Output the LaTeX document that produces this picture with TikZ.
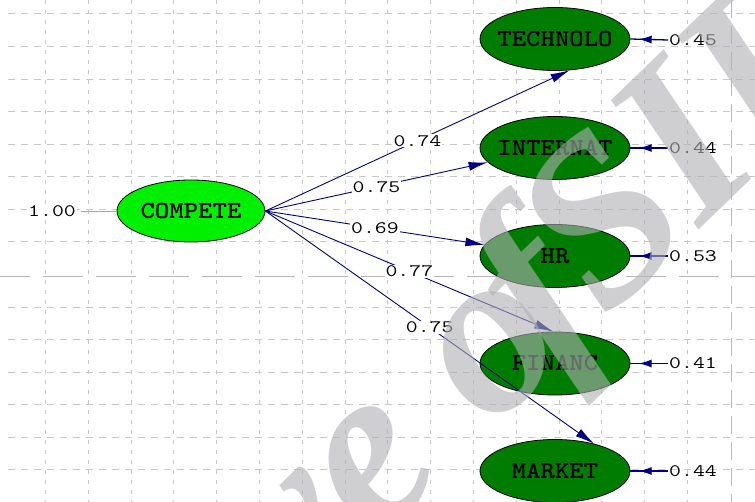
\documentclass[tikz,border=0pt]{standalone}
\usepackage{fontspec}
\usetikzlibrary{arrows.meta,decorations.markings,shapes.geometric}
\newfontfamily\wmfont{Liberation Serif}
\newcommand{\numtxt}[1]{\scalebox{1.32}[1]{#1}}
\newcommand{\nametxt}[1]{\makebox[0pt]{\scalebox{1.12}[1]{#1}}}
\definecolor{lgreen}{RGB}{0,240,0}
\definecolor{dgreen}{RGB}{0,125,0}
\definecolor{pathblue}{RGB}{0,0,135}
\definecolor{gridgray}{RGB}{200,200,200}
\definecolor{pagegray}{RGB}{185,185,185}
\definecolor{wmgray}{RGB}{175,175,180}
\begin{document}
\begin{tikzpicture}[x=1pt,y=-1pt,
  gridv/.style={gridgray, line width=1pt, dash pattern=on 4pt off 6pt},
  gridh/.style={gridgray, line width=1pt, dash pattern=on 7pt off 6pt},
  pageh/.style={pagegray, line width=1pt, dash pattern=on 40pt off 13pt, dash phase=10pt},
  pagev/.style={pagegray, line width=1pt, dash pattern=on 18pt off 8pt},
  latent/.style={ellipse, draw=black, line width=0.8pt, fill=lgreen,
    minimum width=148pt, minimum height=62pt, inner sep=0pt, text=black,
    font=\ttfamily\bfseries\fontsize{24.5}{24.5}\selectfont},
  indic/.style={latent, fill=dgreen, minimum width=150pt, minimum height=63pt},
  numlab/.style={font=\ttfamily\fontsize{17.5}{17.5}\selectfont, inner sep=1pt, text=black},
  pathlab/.style={numlab, fill=white},
  loading/.style={pathblue, line width=0.9pt, -{Latex[length=19pt,width=9pt]}},
  errarrow/.style={pathblue, line width=1.3pt, postaction={decorate},
    decoration={markings, mark=at position 0.78 with {\arrow{Latex[length=13pt,width=8pt]}}}},
  varline/.style={gray!70, line width=0.8pt},
  watermark/.style={text=wmgray, opacity=0.6, anchor=base west,
    font=\wmfont\bfseries\itshape\fontsize{235}{235}\selectfont}
]
\useasboundingbox (0,0) rectangle (755,502);
\clip (0,0) rectangle (755,502);
\fill[white] (0,0) rectangle (755,502);
% grid
\foreach \k in {0,...,15} \draw[gridv] ({45.5+42.8*\k},0) -- ({45.5+42.8*\k},502);
\foreach \k in {0,...,7,9,10,...,14} \draw[gridh] (8,{14+32.57*\k}) -- (755,{14+32.57*\k});
\draw[pageh] (0,276.5) -- (755,276.5);
\draw[pagev] (731,0) -- (731,502);
% nodes
\node[latent] (compete) at (191,211) {\nametxt{COMPETE}};
\node[indic] (technolo) at (555,39) {\nametxt{TECHNOLO}};
\node[indic] (internat) at (555,148) {\nametxt{INTERNAT}};
\node[indic] (hr) at (555,256) {\nametxt{HR}};
\node[indic] (financ) at (555,363.5) {\nametxt{FINANC}};
\node[indic] (market) at (555,471) {\nametxt{MARKET}};
% variance of latent
\node[numlab, fill=white] (var) at (52,211) {\numtxt{1.00}};
\draw[varline, shorten <=4pt] (var.east) -- (compete.west);
% loadings
\draw[loading] (compete.east) -- node[pathlab]{\numtxt{0.74}} (technolo.-65);
\draw[loading] (compete.east) -- node[pathlab]{\numtxt{0.75}} (internat.192);
\draw[loading] (compete.east) -- node[pathlab]{\numtxt{0.69}} (hr.171);
\draw[loading] (compete.east) -- node[pathlab]{\numtxt{0.77}} (financ.93);
\draw[loading] (compete.east) -- node[pathlab]{\numtxt{0.75}} (market.35);
% error variances
\node[numlab, anchor=west] (e1) at (668,40) {\numtxt{0.45}};
\node[numlab, anchor=west] (e2) at (668,148) {\numtxt{0.44}};
\node[numlab, anchor=west] (e3) at (668,256) {\numtxt{0.53}};
\node[numlab, anchor=west] (e4) at (668,363.5) {\numtxt{0.41}};
\node[numlab, anchor=west] (e5) at (668,471) {\numtxt{0.44}};
\draw[errarrow] (e1.west) -- (technolo.east);
\draw[errarrow] (e2.west) -- (internat.east);
\draw[errarrow] (e3.west) -- (hr.east);
\draw[errarrow] (e4.west) -- (financ.east);
\draw[errarrow] (e5.west) -- (market.east);
% watermark
\node[watermark, rotate=44] (wm) at (-98,1000) {Archive o\kern-0.13em f\kern-0.27em\ SID};
\end{tikzpicture}
\end{document}
